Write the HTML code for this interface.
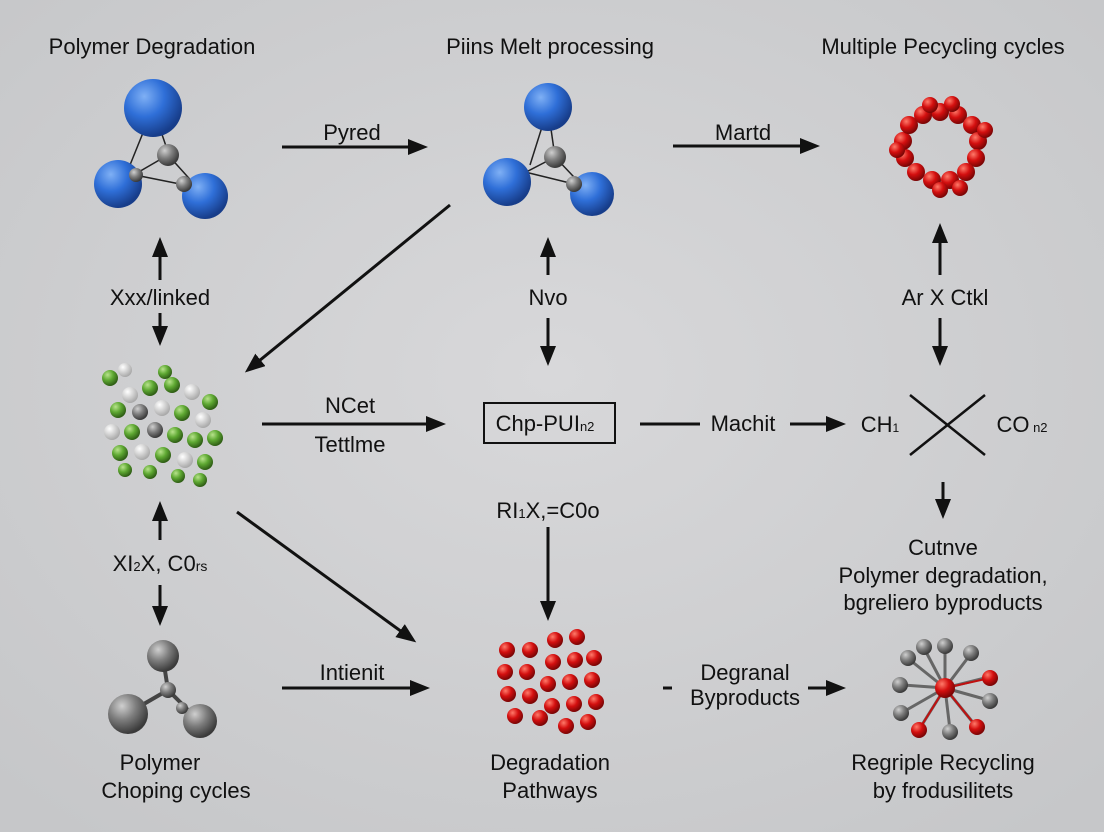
<!DOCTYPE html>
<html><head><meta charset="utf-8"><style>
html,body{margin:0;padding:0;width:1104px;height:832px;overflow:hidden;}
svg{display:block;}
text{font-family:"Liberation Sans",sans-serif;fill:#111;}
</style></head><body>
<svg width="1104" height="832" viewBox="0 0 1104 832" xmlns="http://www.w3.org/2000/svg">
<defs>
<radialGradient id="bg" cx="50%" cy="45%" r="70%"><stop offset="0" stop-color="#d8d8da"/><stop offset="1" stop-color="#c6c7c9"/></radialGradient>
<radialGradient id="blue" cx="35%" cy="30%" r="70%"><stop offset="0" stop-color="#7fb0f5"/><stop offset="0.5" stop-color="#2f6fd8"/><stop offset="1" stop-color="#173d8a"/></radialGradient>
<radialGradient id="red" cx="35%" cy="30%" r="70%"><stop offset="0" stop-color="#ff7a6a"/><stop offset="0.5" stop-color="#d40f0f"/><stop offset="1" stop-color="#7a0505"/></radialGradient>
<radialGradient id="gray" cx="35%" cy="30%" r="70%"><stop offset="0" stop-color="#cfcfcf"/><stop offset="0.5" stop-color="#7d7d7d"/><stop offset="1" stop-color="#3a3a3a"/></radialGradient>
<radialGradient id="green" cx="35%" cy="30%" r="70%"><stop offset="0" stop-color="#b8e38c"/><stop offset="0.5" stop-color="#5ea832"/><stop offset="1" stop-color="#2f5e15"/></radialGradient>
<radialGradient id="white" cx="35%" cy="30%" r="70%"><stop offset="0" stop-color="#ffffff"/><stop offset="1" stop-color="#a9a9a9"/></radialGradient>
<marker id="ahL" markerWidth="20" markerHeight="16" refX="16" refY="8" orient="auto" markerUnits="userSpaceOnUse"><path d="M0,0 L20,8 L0,16 z" fill="#111"/></marker>
</defs>
<rect width="1104" height="832" fill="url(#bg)"/>

<g font-size="22" text-anchor="middle">
<text x="152" y="54">Polymer Degradation</text>
<text x="550" y="54">Piins Melt processing</text>
<text x="943" y="54">Multiple Pecycling cycles</text>
</g>

<g stroke="#222" stroke-width="1.5">
<line x1="153" y1="108" x2="130" y2="165"/><line x1="153" y1="108" x2="168" y2="152"/>
<line x1="118" y1="184" x2="168" y2="155"/><line x1="168" y1="155" x2="205" y2="196"/>
<line x1="135" y1="175" x2="185" y2="185"/>
</g>
<circle cx="153" cy="108" r="29" fill="url(#blue)"/>
<circle cx="118" cy="184" r="24" fill="url(#blue)"/>
<circle cx="205" cy="196" r="23" fill="url(#blue)"/>
<circle cx="168" cy="155" r="11" fill="url(#gray)"/>
<circle cx="136" cy="175" r="7" fill="url(#gray)"/>
<circle cx="184" cy="184" r="8" fill="url(#gray)"/>

<g stroke="#222" stroke-width="1.5">
<line x1="548" y1="108" x2="530" y2="165"/><line x1="548" y1="108" x2="555" y2="157"/>
<line x1="507" y1="182" x2="555" y2="157"/><line x1="555" y1="157" x2="590" y2="194"/>
<line x1="525" y1="172" x2="574" y2="184"/>
</g>
<circle cx="548" cy="107" r="24" fill="url(#blue)"/>
<circle cx="507" cy="182" r="24" fill="url(#blue)"/>
<circle cx="592" cy="194" r="22" fill="url(#blue)"/>
<circle cx="555" cy="157" r="11" fill="url(#gray)"/>
<circle cx="574" cy="184" r="8" fill="url(#gray)"/>

<g>
<circle cx="940" cy="112" r="9" fill="url(#red)"/><circle cx="958" cy="115" r="9" fill="url(#red)"/>
<circle cx="972" cy="125" r="9" fill="url(#red)"/><circle cx="978" cy="141" r="9" fill="url(#red)"/>
<circle cx="976" cy="158" r="9" fill="url(#red)"/><circle cx="966" cy="172" r="9" fill="url(#red)"/>
<circle cx="950" cy="180" r="9" fill="url(#red)"/><circle cx="932" cy="180" r="9" fill="url(#red)"/>
<circle cx="916" cy="172" r="9" fill="url(#red)"/><circle cx="905" cy="158" r="9" fill="url(#red)"/>
<circle cx="903" cy="141" r="9" fill="url(#red)"/><circle cx="909" cy="125" r="9" fill="url(#red)"/>
<circle cx="923" cy="115" r="9" fill="url(#red)"/>
<circle cx="930" cy="105" r="8" fill="url(#red)"/><circle cx="952" cy="104" r="8" fill="url(#red)"/>
<circle cx="985" cy="130" r="8" fill="url(#red)"/><circle cx="897" cy="150" r="8" fill="url(#red)"/>
<circle cx="960" cy="188" r="8" fill="url(#red)"/><circle cx="940" cy="190" r="8" fill="url(#red)"/>
</g>

<g stroke="#111" stroke-width="3" fill="none">
<line x1="282" y1="147" x2="424" y2="147" marker-end="url(#ahL)"/>
<line x1="673" y1="146" x2="816" y2="146" marker-end="url(#ahL)"/>
<line x1="160" y1="280" x2="160" y2="241" marker-end="url(#ahL)"/>
<line x1="160" y1="313" x2="160" y2="342" marker-end="url(#ahL)"/>
<line x1="548" y1="275" x2="548" y2="241" marker-end="url(#ahL)"/>
<line x1="548" y1="318" x2="548" y2="362" marker-end="url(#ahL)"/>
<line x1="940" y1="275" x2="940" y2="227" marker-end="url(#ahL)"/>
<line x1="940" y1="318" x2="940" y2="362" marker-end="url(#ahL)"/>
<line x1="450" y1="205" x2="248" y2="370" marker-end="url(#ahL)"/>
<line x1="262" y1="424" x2="442" y2="424" marker-end="url(#ahL)"/>
<line x1="640" y1="424" x2="700" y2="424"/>
<line x1="790" y1="424" x2="842" y2="424" marker-end="url(#ahL)"/>
<line x1="910" y1="395" x2="985" y2="455" stroke-width="2.5"/>
<line x1="985" y1="395" x2="910" y2="455" stroke-width="2.5"/>
<line x1="943" y1="482" x2="943" y2="515" marker-end="url(#ahL)"/>
<line x1="548" y1="527" x2="548" y2="617" marker-end="url(#ahL)"/>
<line x1="160" y1="540" x2="160" y2="505" marker-end="url(#ahL)"/>
<line x1="160" y1="585" x2="160" y2="622" marker-end="url(#ahL)"/>
<line x1="237" y1="512" x2="413" y2="640" marker-end="url(#ahL)"/>
<line x1="282" y1="688" x2="426" y2="688" marker-end="url(#ahL)"/>
<line x1="663" y1="688" x2="672" y2="688"/>
<line x1="808" y1="688" x2="842" y2="688" marker-end="url(#ahL)"/>
</g>
<rect x="484" y="403" width="131" height="40" fill="none" stroke="#111" stroke-width="2"/>

<g font-size="22" text-anchor="middle">
<text x="352" y="140">Pyred</text>
<text x="743" y="140">Martd</text>
<text x="160" y="305">Xxx/linked</text>
<text x="548" y="305">Nvo</text>
<text x="945" y="305">Ar X Ctkl</text>
<text x="350" y="413">NCet</text>
<text x="350" y="452">Tettlme</text>
<text x="545" y="431">Chp-PUI<tspan font-size="13">n2</tspan></text>
<text x="743" y="431">Machit</text>
<text x="880" y="432">CH<tspan font-size="12">1</tspan></text>
<text x="1022" y="432">CO<tspan font-size="13"> n2</tspan></text>
<text x="943" y="555">Cutnve</text>
<text x="943" y="583">Polymer degradation,</text>
<text x="943" y="610">bgreliero byproducts</text>
<text x="548" y="518">RI<tspan font-size="13">1</tspan>X,=C0o</text>
<text x="160" y="571">XI<tspan font-size="13">2</tspan>X, C0<tspan font-size="14">rs</tspan></text>
<text x="352" y="680">Intienit</text>
<text x="745" y="680">Degranal</text>
<text x="745" y="705">Byproducts</text>
<text x="160" y="770">Polymer</text>
<text x="176" y="798">Choping cycles</text>
<text x="550" y="770">Degradation</text>
<text x="550" y="798">Pathways</text>
<text x="943" y="770">Regriple Recycling</text>
<text x="943" y="798">by frodusilitets</text>
</g>

<g>
<circle cx="130" cy="395" r="8" fill="url(#white)"/><circle cx="150" cy="388" r="8" fill="url(#green)"/>
<circle cx="172" cy="385" r="8" fill="url(#green)"/><circle cx="192" cy="392" r="8" fill="url(#white)"/>
<circle cx="110" cy="378" r="8" fill="url(#green)"/><circle cx="210" cy="402" r="8" fill="url(#green)"/>
<circle cx="118" cy="410" r="8" fill="url(#green)"/><circle cx="140" cy="412" r="8" fill="url(#gray)"/>
<circle cx="162" cy="408" r="8" fill="url(#white)"/><circle cx="182" cy="413" r="8" fill="url(#green)"/>
<circle cx="203" cy="420" r="8" fill="url(#white)"/><circle cx="112" cy="432" r="8" fill="url(#white)"/>
<circle cx="132" cy="432" r="8" fill="url(#green)"/><circle cx="155" cy="430" r="8" fill="url(#gray)"/>
<circle cx="175" cy="435" r="8" fill="url(#green)"/><circle cx="195" cy="440" r="8" fill="url(#green)"/>
<circle cx="215" cy="438" r="8" fill="url(#green)"/><circle cx="120" cy="453" r="8" fill="url(#green)"/>
<circle cx="142" cy="452" r="8" fill="url(#white)"/><circle cx="163" cy="455" r="8" fill="url(#green)"/>
<circle cx="185" cy="460" r="8" fill="url(#white)"/><circle cx="205" cy="462" r="8" fill="url(#green)"/>
<circle cx="125" cy="470" r="7" fill="url(#green)"/><circle cx="150" cy="472" r="7" fill="url(#green)"/>
<circle cx="178" cy="476" r="7" fill="url(#green)"/><circle cx="200" cy="480" r="7" fill="url(#green)"/>
<circle cx="165" cy="372" r="7" fill="url(#green)"/><circle cx="125" cy="370" r="7" fill="url(#white)"/>
</g>

<g stroke="#444" stroke-width="4">
<line x1="163" y1="658" x2="168" y2="690"/><line x1="168" y1="690" x2="130" y2="712"/><line x1="168" y1="690" x2="198" y2="720"/>
</g>
<circle cx="163" cy="656" r="16" fill="url(#gray)"/>
<circle cx="168" cy="690" r="8" fill="url(#gray)"/>
<circle cx="128" cy="714" r="20" fill="url(#gray)"/>
<circle cx="200" cy="721" r="17" fill="url(#gray)"/>
<circle cx="182" cy="708" r="6" fill="url(#gray)"/>

<g>
<circle cx="555" cy="640" r="8" fill="url(#red)"/><circle cx="577" cy="637" r="8" fill="url(#red)"/>
<circle cx="507" cy="650" r="8" fill="url(#red)"/><circle cx="530" cy="650" r="8" fill="url(#red)"/>
<circle cx="553" cy="662" r="8" fill="url(#red)"/><circle cx="575" cy="660" r="8" fill="url(#red)"/><circle cx="594" cy="658" r="8" fill="url(#red)"/>
<circle cx="505" cy="672" r="8" fill="url(#red)"/><circle cx="527" cy="672" r="8" fill="url(#red)"/>
<circle cx="548" cy="684" r="8" fill="url(#red)"/><circle cx="570" cy="682" r="8" fill="url(#red)"/><circle cx="592" cy="680" r="8" fill="url(#red)"/>
<circle cx="508" cy="694" r="8" fill="url(#red)"/><circle cx="530" cy="696" r="8" fill="url(#red)"/>
<circle cx="552" cy="706" r="8" fill="url(#red)"/><circle cx="574" cy="704" r="8" fill="url(#red)"/><circle cx="596" cy="702" r="8" fill="url(#red)"/>
<circle cx="515" cy="716" r="8" fill="url(#red)"/><circle cx="540" cy="718" r="8" fill="url(#red)"/>
<circle cx="566" cy="726" r="8" fill="url(#red)"/><circle cx="588" cy="722" r="8" fill="url(#red)"/>
</g>

<g stroke="#666" stroke-width="3">
<line x1="945" y1="688" x2="945" y2="648"/><line x1="945" y1="688" x2="970" y2="655"/>
<line x1="945" y1="688" x2="985" y2="678"/><line x1="945" y1="688" x2="988" y2="700"/>
<line x1="945" y1="688" x2="975" y2="725"/><line x1="945" y1="688" x2="950" y2="730"/>
<line x1="945" y1="688" x2="920" y2="728"/><line x1="945" y1="688" x2="903" y2="712"/>
<line x1="945" y1="688" x2="903" y2="685"/><line x1="945" y1="688" x2="910" y2="660"/>
<line x1="945" y1="688" x2="925" y2="650"/>
</g>
<g stroke="#c01010" stroke-width="2"><line x1="945" y1="688" x2="990" y2="678"/><line x1="945" y1="688" x2="920" y2="728"/><line x1="945" y1="688" x2="975" y2="725"/></g>
<circle cx="945" cy="646" r="8" fill="url(#gray)"/><circle cx="971" cy="653" r="8" fill="url(#gray)"/>
<circle cx="990" cy="678" r="8" fill="url(#red)"/><circle cx="990" cy="701" r="8" fill="url(#gray)"/>
<circle cx="977" cy="727" r="8" fill="url(#red)"/><circle cx="950" cy="732" r="8" fill="url(#gray)"/>
<circle cx="919" cy="730" r="8" fill="url(#red)"/><circle cx="901" cy="713" r="8" fill="url(#gray)"/>
<circle cx="900" cy="685" r="8" fill="url(#gray)"/><circle cx="908" cy="658" r="8" fill="url(#gray)"/>
<circle cx="924" cy="647" r="8" fill="url(#gray)"/>
<circle cx="945" cy="688" r="10" fill="url(#red)"/>
</svg>
</body></html>
